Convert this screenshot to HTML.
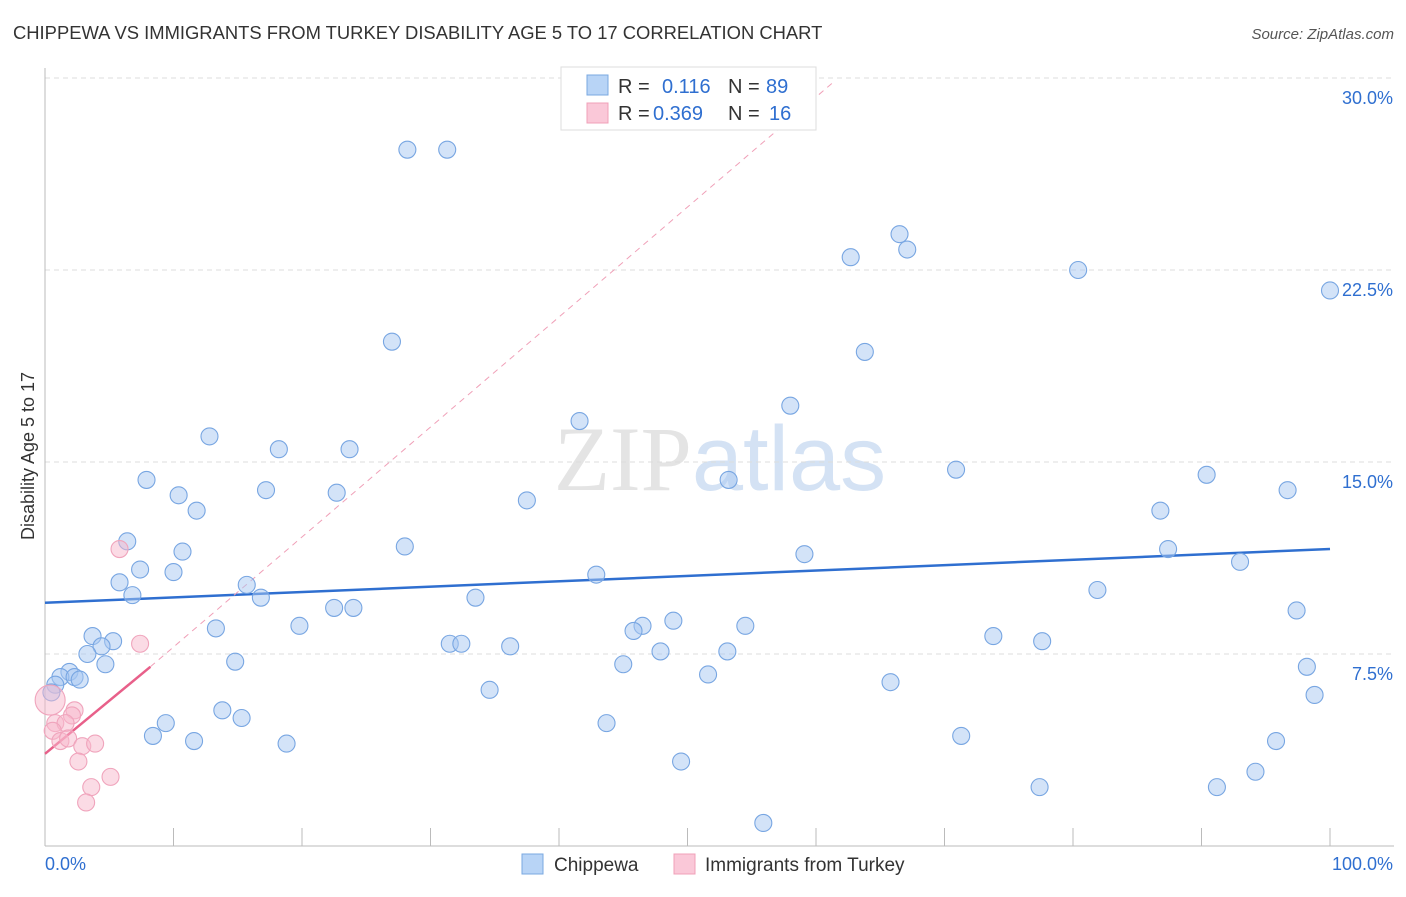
<!DOCTYPE html>
<html><head><meta charset="utf-8"><style>
body{margin:0;background:#fff;font-family:"Liberation Sans",sans-serif;}
svg text{font-family:"Liberation Sans",sans-serif;}
</style></head><body>
<svg id="chart" width="1406" height="892" xmlns="http://www.w3.org/2000/svg">
<text x="13" y="39" font-size="18.4" fill="#333">CHIPPEWA VS IMMIGRANTS FROM TURKEY DISABILITY AGE 5 TO 17 CORRELATION CHART</text>
<text x="1394" y="39" font-size="15" fill="#555" text-anchor="end" font-style="italic">Source: ZipAtlas.com</text>
<text x="720" y="490" font-size="92" text-anchor="middle" fill="#e4e4e4"><tspan font-family="Liberation Serif">ZIP</tspan><tspan fill="#d4e2f4">atlas</tspan></text>
<text transform="translate(34,456) rotate(-90)" font-size="18" fill="#333" text-anchor="middle">Disability Age 5 to 17</text>
<g id="grid"></g><g id="axes"></g><g id="lines"></g><g id="points"></g>
<g>
<rect x="561" y="67" width="255" height="63" fill="#fff" stroke="#ddd"/>
<rect x="587" y="75" width="21" height="20" fill="#b8d4f6" stroke="#7aa8e0"/>
<rect x="587" y="103" width="21" height="20" fill="#fac8d8" stroke="#f0a0b8"/>
<text x="618" y="93" font-size="20" fill="#333">R = </text><text x="662" y="93" font-size="20" fill="#2f6fd0">0.116</text>
<text x="728" y="93" font-size="20" fill="#333">N = </text><text x="766" y="93" font-size="20" fill="#2f6fd0">89</text>
<text x="618" y="120" font-size="20" fill="#333">R = </text><text x="653" y="120" font-size="20" fill="#2f6fd0">0.369</text>
<text x="728" y="120" font-size="20" fill="#333">N = </text><text x="769" y="120" font-size="20" fill="#2f6fd0">16</text>
</g>
<g>
<rect x="522" y="854" width="21" height="20" fill="#b8d4f6" stroke="#7aa8e0"/>
<text x="554" y="871" font-size="19" fill="#333">Chippewa</text>
<rect x="674" y="854" width="21" height="20" fill="#fac8d8" stroke="#f0a0b8"/>
<text x="705" y="871" font-size="19" fill="#333">Immigrants from Turkey</text>
</g>
</svg>
<script>
const yTicks=[7.5,15,22.5,30];
const yTickLabels=["7.5%","15.0%","22.5%","30.0%"];
const xTicks=[0,10,20,30,40,50,60,70,80,90,100];
const blueX=[28.2,31.3,27.0,62.7,66.5,67.1,80.4,100,63.8,58.0,41.6,12.8,18.2,23.7,7.9,10.4,11.8,17.2,22.7,37.5,53.2,70.9,90.4,96.7,86.8,6.4,10.7,28.0,7.4,10.0,59.1,87.4,93.0,5.8,6.8,15.7,16.8,42.9,33.5,81.9,22.5,24.0,97.4,13.3,19.8,46.5,48.9,45.8,54.5,3.7,5.3,4.4,31.5,32.4,36.2,73.8,77.6,3.3,4.7,14.8,45.0,47.9,53.1,51.6,98.2,1.9,1.2,2.3,2.7,0.8,0.5,34.6,65.8,98.8,13.8,15.3,9.4,43.7,8.4,11.6,18.8,71.3,95.8,49.5,94.2,77.4,91.2,55.9];
const blueY=[27.2,27.2,19.7,23.0,23.9,23.3,22.5,21.7,19.3,17.2,16.6,16.0,15.5,15.5,14.3,13.7,13.1,13.9,13.8,13.5,14.3,14.7,14.5,13.9,13.1,11.9,11.5,11.7,10.8,10.7,11.4,11.6,11.1,10.3,9.8,10.2,9.7,10.6,9.7,10.0,9.3,9.3,9.2,8.5,8.6,8.6,8.8,8.4,8.6,8.2,8.0,7.8,7.9,7.9,7.8,8.2,8.0,7.5,7.1,7.2,7.1,7.6,7.6,6.7,7.0,6.8,6.6,6.6,6.5,6.3,6.0,6.1,6.4,5.9,5.3,5.0,4.8,4.8,4.3,4.1,4.0,4.3,4.1,3.3,2.9,2.3,2.3,0.9];
const pinkX=[5.8,7.4,2.3,2.1,0.8,1.6,0.6,1.2,1.8,2.9,3.9,2.6,5.1,3.6,3.2,0.4];
const pinkY=[11.6,7.9,5.3,5.1,4.8,4.8,4.5,4.1,4.2,3.9,4.0,3.3,2.7,2.3,1.7,5.7];
const pinkR=[8.5,8.5,8.5,8.5,8.5,8.5,8.5,8.5,8.5,8.5,8.5,8.5,8.5,8.5,8.5,15];
const blueTrend=[[0,9.5],[100,11.6]];
const pinkTrend=[[0,3.6],[8.2,7.0]];
const pinkDash=[[8.2,7.0],[61.5,29.9]];
const NS="http://www.w3.org/2000/svg";
const X=v=>45+v*12.85, Y=v=>846-v*25.6;
function mk(tag,parent,attrs){const e=document.createElementNS(NS,tag);for(const k in attrs)e.setAttribute(k,attrs[k]);document.getElementById(parent).appendChild(e);return e;}
yTicks.forEach((t,i)=>{
 let g=mk('line','grid',{x1:45,x2:1394,y1:Y(t),y2:Y(t),stroke:'#ddd','stroke-dasharray':'5,4'});
 
 
 let l=mk('text','axes',{x:1393,y:Y(t)+26,'font-size':18,fill:'#2f6fd0','text-anchor':'end'});
 l.textContent=yTickLabels[i];
 
 
});
let ax=mk('line','axes',{x1:45,x2:45,y1:68,y2:846,stroke:'#bbb'});


let bx=mk('line','axes',{x1:45,x2:1394,y1:846,y2:846,stroke:'#bbb'});


xTicks.forEach(t=>{let k=mk('line','axes',{x1:X(t),x2:X(t),y1:828,y2:846,stroke:'#bbb'});
 
 });
let x0=mk('text','axes',{x:45,y:870,'font-size':18,fill:'#2f6fd0'});x0.textContent='0.0%';


let x1=mk('text','axes',{x:1393,y:870,'font-size':18,fill:'#2f6fd0','text-anchor':'end'});x1.textContent='100.0%';


blueX.forEach((v,i)=>{let c=mk('circle','points',{cx:X(v),cy:Y(blueY[i]),r:8.5,fill:'rgba(168,200,242,0.5)',stroke:'#78a6e2','stroke-width':1.1});
 
 });
pinkX.forEach((v,i)=>{let c=mk('circle','points',{cx:X(v),cy:Y(pinkY[i]),r:pinkR[i],fill:'rgba(248,184,204,0.5)',stroke:'#f0a4bc','stroke-width':1.1});
 
 });
let bt=mk('line','lines',{x1:X(blueTrend[0][0]),y1:Y(blueTrend[0][1]),x2:X(blueTrend[1][0]),y2:Y(blueTrend[1][1]),stroke:'#2f6fd0','stroke-width':2.5});


let pd=mk('line','lines',{x1:X(pinkDash[0][0]),y1:Y(pinkDash[0][1]),x2:X(pinkDash[1][0]),y2:Y(pinkDash[1][1]),stroke:'#f0a0b8','stroke-width':1,'stroke-dasharray':'6,5'});


let pt=mk('line','lines',{x1:X(pinkTrend[0][0]),y1:Y(pinkTrend[0][1]),x2:X(pinkTrend[1][0]),y2:Y(pinkTrend[1][1]),stroke:'#e8608a','stroke-width':2.5});


</script>
</body></html>
